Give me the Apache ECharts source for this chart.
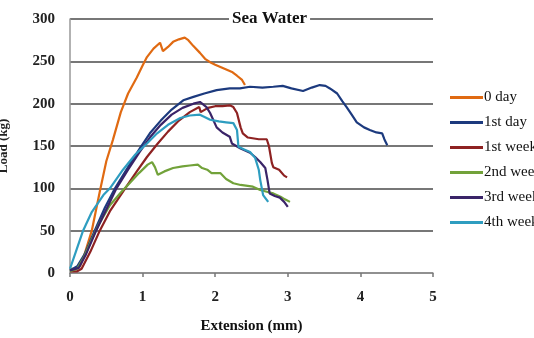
<!DOCTYPE html>
<html>
<head>
<meta charset="utf-8">
<script src="https://cdn.jsdelivr.net/npm/echarts@6/dist/echarts.min.js"></script>
<style>
  html, body { margin: 0; padding: 0; background: #fff; }
  #chart { width: 534px; height: 338px; }
</style>
</head>
<body>
<div id="chart"></div>
<script>
// Load–extension curves, sea water exposure
const seriesNames = ['0 day', '1st day', '1st week', '2nd week', '3rd week', '4th week'];
const yTicks = [0, 50, 100, 150, 200, 250, 300];
const xTicks = [0, 1, 2, 3, 4, 5];

const day0 = [[0,5],[0.08,5],[0.14,8],[0.2,22],[0.3,50],[0.41,96],[0.5,132],[0.59,157],[0.7,190],[0.8,212],[0.92,231],[1.0,245],[1.06,255],[1.15,265],[1.24,272],[1.28,262],[1.35,267],[1.42,273],[1.5,276],[1.58,278],[1.63,275],[1.7,268],[1.79,260],[1.86,253],[1.93,249],[2.0,246],[2.08,243],[2.16,240],[2.24,237],[2.3,233],[2.37,228],[2.41,222]];
const day1 = [[0,3],[0.1,8],[0.2,22],[0.34,50],[0.48,77],[0.62,100],[0.8,125],[0.96,147],[1.1,165],[1.25,180],[1.4,193],[1.56,204],[1.7,208],[1.85,212],[2.02,216],[2.2,218],[2.34,218],[2.48,220],[2.65,219],[2.8,220],[2.93,221],[3.05,218],[3.21,215],[3.33,219],[3.44,222],[3.52,221],[3.58,218],[3.68,212],[3.75,203],[3.81,196],[3.88,187],[3.95,178],[4.05,172],[4.13,169],[4.22,166],[4.3,165],[4.33,158],[4.37,151]];
const week1 = [[0,2],[0.1,2],[0.16,5],[0.28,25],[0.41,50],[0.55,73],[0.76,100],[0.92,120],[1.06,137],[1.2,152],[1.35,167],[1.5,180],[1.65,190],[1.78,196],[1.8,190],[1.9,195],[2.0,197],[2.1,197],[2.2,198],[2.25,196],[2.3,189],[2.35,172],[2.38,165],[2.45,160],[2.6,158],[2.71,158],[2.74,150],[2.78,130],[2.8,125],[2.88,122],[2.95,115],[2.99,113]];
const week2 = [[0,2],[0.1,5],[0.2,20],[0.28,36],[0.4,58],[0.55,80],[0.7,95],[0.83,107],[0.95,118],[1.07,128],[1.13,131],[1.17,125],[1.21,116],[1.3,120],[1.42,124],[1.55,126],[1.65,127],[1.76,128],[1.82,124],[1.89,122],[1.95,118],[2.07,118],[2.15,111],[2.25,106],[2.35,104],[2.52,102],[2.62,98],[2.71,96],[2.8,94],[2.9,90],[2.96,87],[3.03,84]];
const week3 = [[0,3],[0.12,6],[0.22,22],[0.36,50],[0.5,75],[0.64,100],[0.8,122],[0.96,143],[1.1,160],[1.25,175],[1.4,187],[1.55,195],[1.7,200],[1.79,202],[1.88,196],[1.93,189],[2.02,172],[2.1,166],[2.2,161],[2.23,153],[2.35,147],[2.48,142],[2.55,137],[2.62,131],[2.69,124],[2.72,110],[2.75,94],[2.82,91],[2.89,89],[2.95,84],[3.0,78]];
const week4 = [[0,5],[0.08,25],[0.18,50],[0.3,72],[0.46,92],[0.55,100],[0.73,122],[0.9,140],[1.06,153],[1.2,165],[1.35,175],[1.52,183],[1.65,186],[1.79,187],[1.86,184],[1.93,181],[2.05,179],[2.15,178],[2.25,177],[2.3,169],[2.32,149],[2.4,146],[2.48,143],[2.55,136],[2.6,122],[2.62,110],[2.66,92],[2.73,84]];

const seriesData = [day0, day1, week1, week2, week3, week4];
const colors = ['#E06A12', '#1C3A7E', '#8E2222', '#72A23A', '#3A2468', '#2E9DC0'];

const serif = '"Liberation Serif", "DejaVu Serif", serif';
const chart = echarts.init(document.getElementById('chart'));

chart.setOption({
  animation: false,
  backgroundColor: '#fff',
  color: colors,
  title: {
    text: 'Sea Water',
    left: 229, top: 10,
    padding: [0, 3],
    backgroundColor: '#fff',
    textStyle: { fontFamily: serif, fontSize: 17, fontWeight: 'bold', color: '#111' }
  },
  legend: {
    orient: 'vertical',
    left: 445, top: 85,
    itemWidth: 33, itemHeight: 3, itemGap: 10,
    icon: 'rect',
    data: seriesNames,
    textStyle: { fontFamily: serif, fontSize: 15, color: '#111', padding: [0, 0, 0, -4] }
  },
  grid: { left: 70, right: 101, top: 19, bottom: 65, containLabel: false, outerBoundsMode: 'none' },
  xAxis: {
    type: 'value', min: xTicks[0], max: xTicks[xTicks.length - 1], interval: 1,
    name: 'Extension (mm)', nameLocation: 'middle', nameGap: 46,
    nameTextStyle: { fontFamily: serif, fontSize: 15, fontWeight: 'bold', color: '#111' },
    axisLine: { lineStyle: { color: '#999', width: 1.5 } },
    axisTick: { show: true, inside: false, length: 4, lineStyle: { color: '#777', width: 1.5 } },
    axisLabel: { margin: 17, fontFamily: serif, fontSize: 15, fontWeight: 'bold', color: '#222' },
    splitLine: { show: false }
  },
  yAxis: {
    type: 'value', min: yTicks[0], max: yTicks[yTicks.length - 1], interval: 50,
    name: 'Load (kg)', nameLocation: 'middle', nameGap: 60, nameRotate: 90,
    nameTextStyle: { fontFamily: serif, fontSize: 13, fontWeight: 'bold', color: '#222' },
    axisLine: { show: true, lineStyle: { color: '#999', width: 1.5 } },
    axisTick: { show: false },
    axisLabel: { margin: 15, fontFamily: serif, fontSize: 15, fontWeight: 'bold', color: '#222' },
    splitLine: { lineStyle: { color: '#4a4a4a', width: 1.5 } }
  },
  series: seriesNames.map((name, i) => ({
    name,
    type: 'line',
    data: seriesData[i],
    showSymbol: false,
    symbol: 'none',
    lineStyle: { width: 2.2, color: colors[i] },
    itemStyle: { color: colors[i] }
  }))
});
</script>
</body>
</html>
